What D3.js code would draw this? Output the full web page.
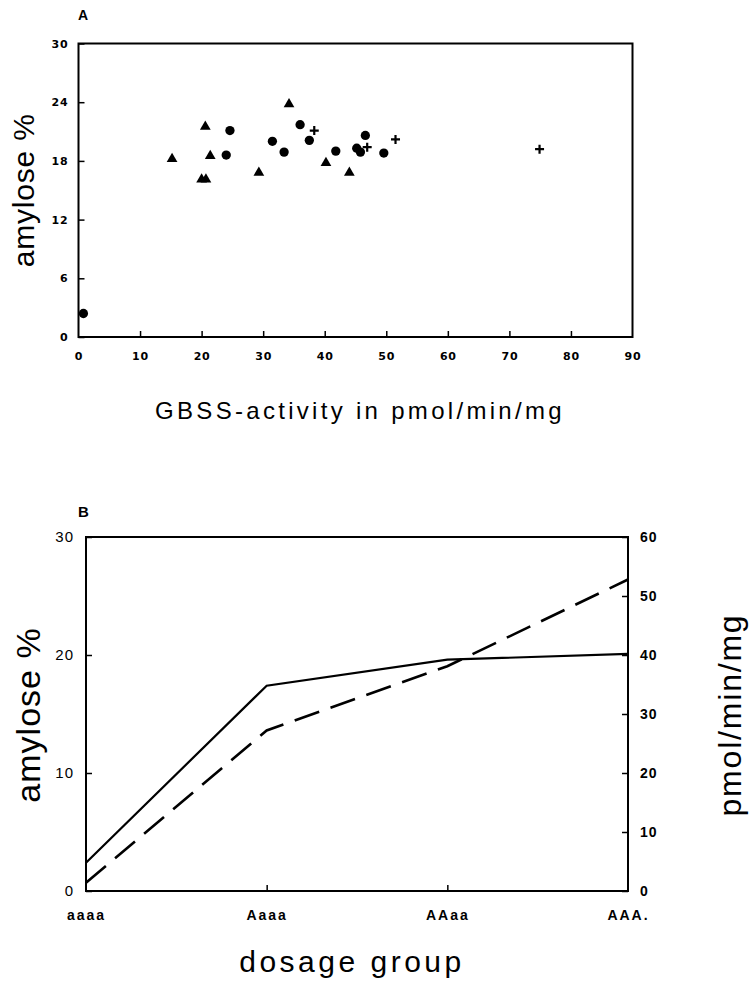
<!DOCTYPE html>
<html><head><meta charset="utf-8">
<script src="https://cdn.jsdelivr.net/npm/d3@7"></script>
<style>
body{margin:0;background:#fff;}
svg{display:block;}
text{font-family:"Liberation Sans",Arial,sans-serif;fill:#000;}
</style></head>
<body>
<script>
// ---- Panel A data ----
const triangleX = [15.2, 20.6, 21.4, 20.0, 20.7, 34.2, 29.3, 40.2, 44.0];
const triangleY = [18.2, 21.5, 18.5, 16.1, 16.1, 23.8, 16.8, 17.8, 16.8];
const circleX = [0.8, 24.6, 24.0, 31.5, 33.4, 36.0, 37.5, 41.8, 45.2, 45.8, 46.6, 49.6];
const circleY = [2.4, 21.1, 18.6, 20.0, 18.9, 21.7, 20.1, 19.0, 19.3, 18.9, 20.6, 18.8];
const crossX = [38.3, 46.9, 51.5, 74.9];
const crossY = [21.1, 19.4, 20.2, 19.2];
const xTicksA = [0, 10, 20, 30, 40, 50, 60, 70, 80, 90];
const yTicksA = [0, 6, 12, 18, 24, 30];

// ---- Panel B data ----
const groups = ["aaaa", "Aaaa", "AAaa", "AAA."];
const amylose = [2.4, 17.4, 19.6, 20.1];
const gbss = [1.4, 27.2, 38.1, 52.8];
const yTicksBLeft = [0, 10, 20, 30];
const yTicksBRight = [0, 10, 20, 30, 40, 50, 60];

const W = 751, H = 981;
const svg = d3.select("body").append("svg").attr("width", W).attr("height", H);
const boldTick = "'DejaVu Sans',Arial,sans-serif";

// ================= Panel A =================
const ax = d3.scaleLinear().domain([0, 90]).range([78.5, 632.5]);
const ay = d3.scaleLinear().domain([0, 30]).range([337, 43.5]);

const gA = svg.append("g");
gA.append("rect").attr("x", ax(0)).attr("y", ay(30))
  .attr("width", ax(90) - ax(0)).attr("height", ay(0) - ay(30))
  .attr("fill", "none").attr("stroke", "#000").attr("stroke-width", 2);

const xAxisA = d3.axisBottom(ax).tickValues(xTicksA).tickSizeInner(-6).tickSizeOuter(0).tickPadding(15).tickFormat(d3.format("d"));
const gxA = gA.append("g").attr("transform", `translate(0,${ay(0)})`).call(xAxisA);
const yAxisA = d3.axisLeft(ay).tickValues(yTicksA).tickSizeInner(-6).tickSizeOuter(0).tickPadding(10).tickFormat(d3.format("d"));
const gyA = gA.append("g").attr("transform", `translate(${ax(0)},0)`).call(yAxisA);
[gxA, gyA].forEach(g => {
  g.select(".domain").remove();
  g.selectAll(".tick line").attr("stroke", "#000").attr("stroke-width", 1.5);
  g.selectAll(".tick text").style("font-family", boldTick)
    .style("font-size", "11px").style("font-weight", "bold").style("letter-spacing", "0.8px");
});
gxA.selectAll(".tick line").filter((d, i) => i === 0 || i === xTicksA.length - 1).remove();

const triPts = triangleX.map((x, i) => [x, triangleY[i]]);
const cirPts = circleX.map((x, i) => [x, circleY[i]]);
const crsPts = crossX.map((x, i) => [x, crossY[i]]);

gA.selectAll(".tri").data(triPts).enter().append("path")
  .attr("d", d3.symbol().type(d3.symbolTriangle).size(50))
  .attr("transform", d => `translate(${ax(d[0])},${ay(d[1])})`)
  .attr("fill", "#000");
gA.selectAll(".cir").data(cirPts).enter().append("path")
  .attr("d", d3.symbol().type(d3.symbolCircle).size(68))
  .attr("transform", d => `translate(${ax(d[0])},${ay(d[1])})`)
  .attr("fill", "#000");
const plus = { draw(ctx, size) { const r = Math.sqrt(size) / 2; ctx.moveTo(-r, 0); ctx.lineTo(r, 0); ctx.moveTo(0, -r); ctx.lineTo(0, r); } };
gA.selectAll(".crs").data(crsPts).enter().append("path")
  .attr("d", d3.symbol().type(plus).size(81))
  .attr("transform", d => `translate(${ax(d[0])},${ay(d[1])})`)
  .attr("fill", "none").attr("stroke", "#000").attr("stroke-width", 2.2);

gA.append("text").attr("x", 78).attr("y", 20).text("A")
  .style("font-size", "14px").style("font-weight", "bold");
gA.append("text").attr("transform", `translate(34,${(ay(0) + ay(30)) / 2}) rotate(-90)`)
  .attr("text-anchor", "middle").text("amylose %").style("font-size", "30px").style("letter-spacing", "0.8px");
gA.append("text").attr("x", 360).attr("y", 419).attr("text-anchor", "middle")
  .text("GBSS-activity in pmol/min/mg").style("font-size", "24px").style("letter-spacing", "3.3px");

// ================= Panel B =================
const bx = d3.scalePoint().domain(groups).range([86, 628]).padding(0);
const byL = d3.scaleLinear().domain([0, 30]).range([891, 537]);
const byR = d3.scaleLinear().domain([0, 60]).range([891, 537]);

const gB = svg.append("g");
gB.append("rect").attr("x", 86).attr("y", byL(30))
  .attr("width", 628 - 86).attr("height", byL(0) - byL(30))
  .attr("fill", "none").attr("stroke", "#000").attr("stroke-width", 2);

const xAxisB = d3.axisBottom(bx).tickSizeInner(-6).tickSizeOuter(0).tickPadding(19);
const gxB = gB.append("g").attr("transform", `translate(0,${byL(0)})`).call(xAxisB);
const yAxisBL = d3.axisLeft(byL).tickValues(yTicksBLeft).tickSizeInner(-6).tickSizeOuter(0).tickPadding(12).tickFormat(d3.format("d"));
const gyBL = gB.append("g").attr("transform", `translate(86,0)`).call(yAxisBL);
const yAxisBR = d3.axisRight(byR).tickValues(yTicksBRight).tickSizeInner(-6).tickSizeOuter(0).tickPadding(12).tickFormat(d3.format("d"));
const gyBR = gB.append("g").attr("transform", `translate(628,0)`).call(yAxisBR);
[gxB, gyBL, gyBR].forEach(g => {
  g.select(".domain").remove();
  g.selectAll(".tick line").attr("stroke", "#000").attr("stroke-width", 1.5);
  g.selectAll(".tick text").style("font-family", "'Liberation Sans',Arial,sans-serif")
    .style("font-size", "14px").style("font-weight", "bold").style("letter-spacing", "1px");
});
gxB.selectAll(".tick text").style("font-size", "14px").style("letter-spacing", "2px");
gxB.selectAll(".tick line").filter((d, i) => i === 0 || i === groups.length - 1).remove();
gyBL.selectAll(".tick text").style("font-weight", "normal").style("font-size", "15px");

const lineL = d3.line().x((d, i) => bx(groups[i])).y(d => byL(d));
const lineR = d3.line().x((d, i) => bx(groups[i])).y(d => byR(d));
gB.append("path").datum(amylose).attr("d", lineL)
  .attr("fill", "none").attr("stroke", "#000").attr("stroke-width", 2.2);
gB.append("path").datum(gbss).attr("d", lineR)
  .attr("fill", "none").attr("stroke", "#000").attr("stroke-width", 2.6)
  .attr("stroke-dasharray", "26,12");

gB.append("text").attr("x", 78).attr("y", 517).text("B")
  .style("font-size", "15px").style("font-weight", "bold");
gB.append("text").attr("transform", `translate(40,715) rotate(-90)`)
  .attr("text-anchor", "middle").text("amylose %").style("font-size", "34px").style("letter-spacing", "1px");
gB.append("text").attr("transform", `translate(741,715) rotate(-90)`)
  .attr("text-anchor", "middle").text("pmol/min/mg").style("font-size", "32px").style("letter-spacing", "1.8px");
gB.append("text").attr("x", 352).attr("y", 972).attr("text-anchor", "middle")
  .text("dosage group").style("font-size", "30px").style("letter-spacing", "3.5px");
</script>
</body></html>
